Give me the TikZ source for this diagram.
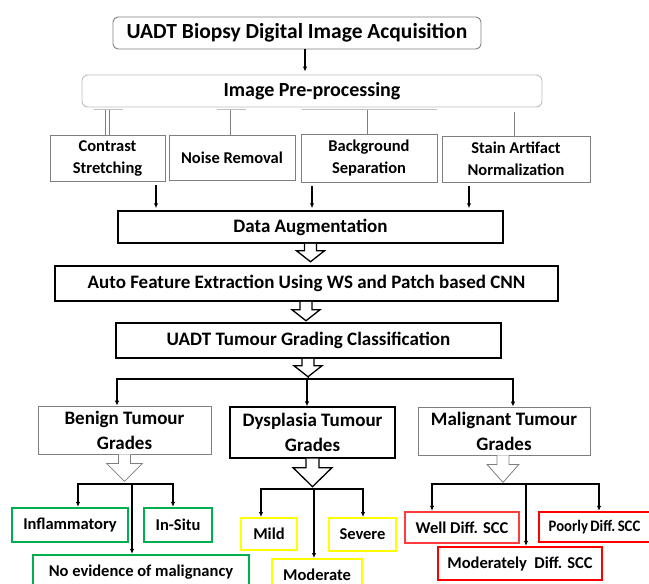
\documentclass[tikz,border=0pt]{standalone}
\usepackage{fontspec}
\usepackage{graphicx}
\setmainfont{Carlito}
\usetikzlibrary{calc,arrows.meta}
\definecolor{gborder}{HTML}{7F7F7F}
\definecolor{lborder}{HTML}{BFBFBF}
\definecolor{grn}{HTML}{00B050}
\definecolor{yel}{HTML}{FFFF00}
\definecolor{rd}{HTML}{FF0000}
\definecolor{rdl}{HTML}{FF3B3B}
\begin{document}
\begin{tikzpicture}[x=1pt,y=-1pt,
  font=\bfseries,
  box/.style={fill=white, inner sep=0pt, align=center},
  graybox/.style={box, draw=gborder, line width=0.8pt},
  blackbox/.style={box, draw=black, line width=1.5pt},
  leaf/.style={box, line width=2.4pt},
  arr/.style={draw=black, line width=1.1pt, -{Latex[length=5pt,width=4.5pt]}},
  plain/.style={draw=black, line width=1.1pt},
  stem/.style={draw=gborder, line width=0.7pt, double=white, double distance=3pt},
  stub/.style={draw=lborder, line width=0.9pt},
  hollowg/.style={draw=gborder, line width=0.8pt, fill=white, line join=miter},
  hollowb/.style={draw=black, line width=1.3pt, fill=white, line join=miter},
  bigf/.style={font=\bfseries\fontsize{19}{25}\selectfont},
  midf/.style={font=\bfseries\fontsize{16.5}{22}\selectfont},
]
\useasboundingbox (0,0) rectangle (649,584);
\clip (0,0) rectangle (649,584);

% top levels
\node[box, draw=gborder, line width=0.9pt, rounded corners=5pt, minimum width=368pt, minimum height=32pt,
      font=\bfseries\fontsize{21.5}{25}\selectfont] (top) at (297,33) {UADT Biopsy Digital Image Acquisition};
\node[box, draw=lborder, line width=0.9pt, rounded corners=6pt, minimum width=460pt, minimum height=32pt,
      font=\bfseries\fontsize{20}{24}\selectfont] (pre) at (312,91) {Image Pre-processing};

\node[graybox, midf, minimum width=115pt, minimum height=46pt] (cs) at (107.5,158) {Contrast\\Stretching};
\node[graybox, midf, minimum width=126pt, minimum height=45pt] (nr) at (232,157.5) {Noise Removal};
\node[graybox, midf, minimum width=136pt, minimum height=48pt] (bs) at (369,158) {Background\\Separation};
\node[graybox, midf, minimum width=148pt, minimum height=46pt] (sa) at (516,159) {Stain Artifact\\Normalization};

\node[blackbox, bigf, minimum width=385pt, minimum height=32pt] (da) at (310.5,227) {Data Augmentation};
\node[blackbox, bigf, minimum width=503pt, minimum height=35pt] (af) at (306.5,283.5) {Auto Feature Extraction Using WS and Patch based CNN};
\node[blackbox, bigf, minimum width=385pt, minimum height=35pt] (gr) at (308.5,340.5) {UADT Tumour Grading Classification};

% grade boxes
\node[graybox, bigf, minimum width=173pt, minimum height=48pt] (bn) at (124.5,430) {Benign Tumour\\Grades};
\node[box, draw=black, line width=1.3pt, bigf, minimum width=165pt, minimum height=51pt] (dy) at (312.5,432.5) {Dysplasia Tumour\\Grades};
\node[graybox, bigf, minimum width=172pt, minimum height=48pt] (ml) at (504,431) {Malignant Tumour\\Grades};

% leaves
\node[leaf, draw=grn, midf, minimum width=116pt, minimum height=34pt] (inf) at (70,525) {Inflammatory};
\node[leaf, draw=grn, midf, minimum width=68pt, minimum height=34pt] (ins) at (178,525) {In-Situ};
\node[leaf, draw=grn, midf, minimum width=216pt, minimum height=34pt] (noe) at (141,572) {No evidence of malignancy};
\node[leaf, draw=yel, line width=2pt, midf, minimum width=56pt, minimum height=32pt] (mild) at (269,534) {Mild};
\node[leaf, draw=yel, line width=2pt, midf, minimum width=67pt, minimum height=33pt] (sev) at (362.5,534.5) {Severe};
\node[leaf, draw=yel, line width=2pt, midf, minimum width=90pt, minimum height=32pt] (mod) at (317,575) {Moderate};
\node[leaf, draw=rdl, midf, minimum width=114pt, minimum height=31pt] (wel) at (462,527.5) {Well Diff. SCC};
\node[leaf, draw=rd, font=\bfseries\fontsize{16}{20}\selectfont, minimum width=121pt, minimum height=30pt] (poo) at (599.5,527) {\hspace*{-10pt}\scalebox{0.92}[1]{Poorly\,Diff.\,SCC}};
\node[leaf, draw=rd, midf, minimum width=164pt, minimum height=33pt] (mds) at (520,563.5) {Moderately\ \ Diff. SCC};

% top arrow
\draw[arr] ([xshift=8pt]top.south) -- ([xshift=8pt,yshift=3pt]top.south |- pre.north);

% stems from pre-processing
\draw[stub] (94,109.5) -- (123,109.5);
\draw[stub] (217,109.5) -- (246,109.5);
\draw[stub] (302,109.5) -- (437,109.5);
\draw[stem] ([yshift=-2.5pt]pre.south -| cs.north) -- (cs.north);
\draw[stem] ([yshift=-2.5pt]pre.south -| nr.north) -- (nr.north);
\draw[stem] ([yshift=-2.5pt]pre.south -| bs.north) -- (bs.north);
\draw[stem] ([yshift=-4.5pt]pre.south -| sa.north) -- (sa.north);

% arrows to data augmentation
\draw[arr] ([xshift=48.5pt,yshift=-4pt]cs.south) -- ([xshift=-154.5pt,yshift=2pt]da.north);
\draw[arr] ([xshift=-57pt,yshift=-4pt]bs.south) -- ([xshift=1.5pt,yshift=2pt]da.north);
\draw[arr] ([xshift=-47pt,yshift=-4pt]sa.south) -- ([xshift=158.5pt,yshift=2pt]da.north);

% hollow arrows between black boxes
\draw[hollowb] ([xshift=-6pt]da.south) -- ++(0,7) -- ++(-8,0) -- ++(14,11) -- ++(14,-11) -- ++(-8,0) -- ++(0,-7);
\draw[hollowb] ([xshift=-6.5pt]af.south) -- ++(0,8) -- ++(-8,0) -- ++(14,11) -- ++(14,-11) -- ++(-8,0) -- ++(0,-8);
\draw[hollowb] ([xshift=-6.5pt]gr.south) -- ++(0,7) -- ++(-8,0) -- ++(14,11) -- ++(14,-11) -- ++(-8,0) -- ++(0,-7);

% branch from grading
\coordinate (gb) at (308,379);
\draw[plain] ([yshift=-18pt]gr.south) -- (gb);
\draw[arr] (gb) -| ([xshift=-7.5pt]bn.north);
\draw[arr] (gb) -| ([xshift=-5.5pt]dy.north);
\draw[arr] (gb) -| ([xshift=9pt]ml.north);

% hollow arrows below grade boxes
\draw[hollowg] ([xshift=-6pt]bn.south) -- ++(0,9) -- ++(-12,0) -- ++(18,18) -- ++(18,-18) -- ++(-12,0) -- ++(0,-9);
\draw[hollowb] ([xshift=-6.5pt]dy.south) -- ++(0,9) -- ++(-13,0) -- ++(19.5,19) -- ++(19.5,-19) -- ++(-13,0) -- ++(0,-9);
\draw[hollowg] ([xshift=-7pt]ml.south) -- ++(0,9) -- ++(-10,0) -- ++(16,18) -- ++(16,-18) -- ++(-10,0) -- ++(0,-9);

% benign branch
\coordinate (bb) at (132,484);
\draw[arr] (bb) -| ([xshift=8pt]inf.north);
\draw[arr] (bb) -| ([xshift=-5pt]ins.north);
\draw[arr] (bb) -- (bb |- noe.north);

% dysplasia branch
\coordinate (db) at (314,489);
\draw[arr] (db) -| ([xshift=-8pt]mild.north);
\draw[arr] (db) -| ([xshift=0.5pt]sev.north);
\draw[arr] (db) -- (db |- mod.north);

% malignant branch
\coordinate (mb) at (526,484);
\draw[arr] (mb) -| ([xshift=-30pt]wel.north);
\draw[arr] (mb) -| ([xshift=-0.5pt]poo.north);
\draw[arr] (mb) -- (mb |- mds.north);
\end{tikzpicture}
\end{document}
